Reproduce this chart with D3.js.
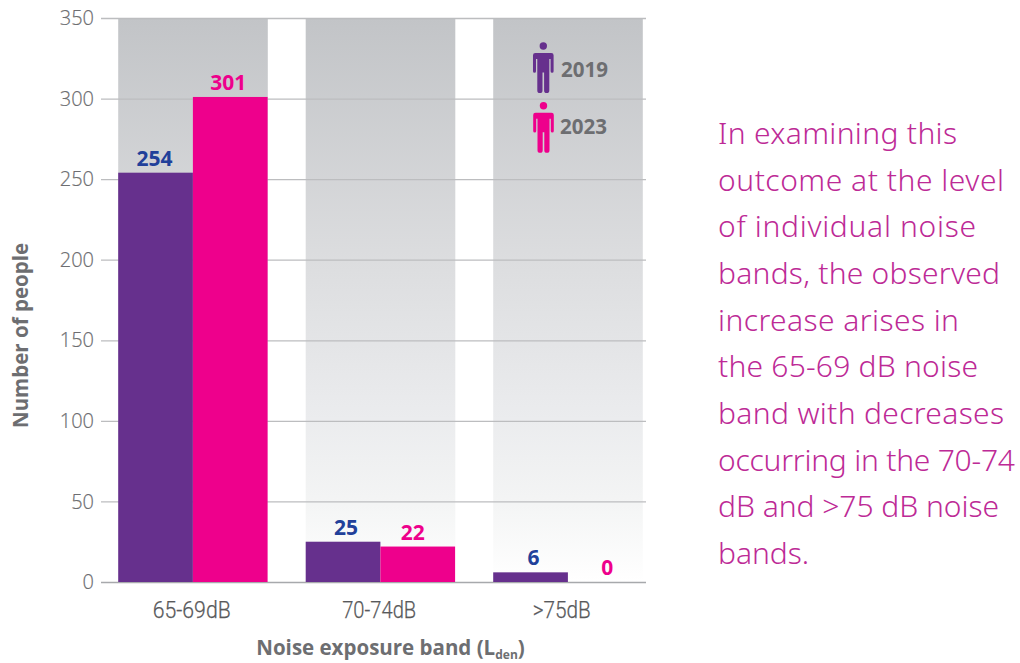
<!DOCTYPE html>
<html><head><meta charset="utf-8">
<script src="https://cdn.jsdelivr.net/npm/d3@7/dist/d3.min.js"></script>
<style>
html,body{margin:0;padding:0;background:#fff;}
svg{display:block;}
text{font-family:"Open Sans","Noto Sans",sans-serif;}
</style></head><body>
<svg id="c" width="1020" height="663"></svg>
<script>
const categories = ["65-69dB","70-74dB",">75dB"];
const series = ["2019","2023"];
const values2019 = [254,25,6];
const values2023 = [301,22,0];
const yTicks = [0,50,100,150,200,250,300,350];
const seriesColors = ["#66308d","#ee008c"];
const labelColors = ["#21409a","#ee008c"];
const noteLines = ["In examining this","outcome at the level","of individual noise","bands, the observed","increase arises in","the 65-69 dB noise","band with decreases","occurring in the 70-74","dB and >75 dB noise","bands."];

// layout constants (not data)
const noteWidths = [239,286,258,282,241,260,286,297,281,91];
const catLabelWidths = [78,74,58];
const catLabelShift = [-1.5,-1.5,-6.5];
const barLabelShift = [-1,-2,3,-5,3,2];

const svg = d3.select("#c");
const y = d3.scaleLinear().domain([0,350]).range([582,18]);
const x = d3.scaleBand().domain(categories).range([118.2,643.2]).paddingInner(0.2);
const xs = d3.scaleBand().domain(series).range([0,x.bandwidth()-0.6]);

const defs = svg.append("defs");
const g = defs.append("linearGradient").attr("id","bg").attr("gradientUnits","userSpaceOnUse")
  .attr("x1",0).attr("x2",0).attr("y1",y(350)).attr("y2",y(0));
[[0,"#c2c4c7"],[0.43,"#dcdddf"],[0.71,"#ebecee"],[0.85,"#f3f4f4"],[1,"#ffffff"]].forEach(s=>
  g.append("stop").attr("offset",s[0]).attr("stop-color",s[1]));

svg.append("g").selectAll("rect").data(categories).join("rect")
  .attr("x",d=>x(d)).attr("y",y(350)).attr("width",x.bandwidth()-0.4).attr("height",y(0)-y(350))
  .attr("fill","url(#bg)");

// y axis
const yAxis = d3.axisLeft(y).tickValues(yTicks).tickSize(0).tickPadding(7);
const ya = svg.append("g").attr("transform","translate(101,0)").call(yAxis);
ya.select(".domain").remove();
ya.selectAll(".tick line").attr("x2",545).attr("stroke","#bcbdbf").attr("stroke-width",1.3);
ya.selectAll(".tick text").attr("fill","#6d6e71").attr("font-size",20)
  .style("font-family","'Open Sans',sans-serif").style("font-weight",300)
  .attr("stroke","#6d6e71").attr("stroke-width",0.2).attr("dy","0.33em");
ya.selectAll(".tick").filter(d=>d===0).select("line").attr("stroke","#a7a9ac");

// x axis
const xAxis = d3.axisBottom(x).tickSize(0).tickPadding(19);
const xa = svg.append("g").attr("transform","translate(0,582)").call(xAxis);
xa.select(".domain").remove();
xa.selectAll(".tick text").attr("fill","#58595b").attr("font-size",24)
  .style("font-family","Roboto,sans-serif").style("font-weight",300)
  .attr("stroke","#58595b").attr("stroke-width",0.25)
  .attr("lengthAdjust","spacingAndGlyphs")
  .attr("x",(d,i)=>catLabelShift[i])
  .attr("textLength",(d,i)=>catLabelWidths[i]);

// bars
const rows = categories.map((c,i)=>[{c,s:"2019",v:values2019[i],k:0},{c,s:"2023",v:values2023[i],k:1}]).flat();
svg.append("g").selectAll("rect").data(rows).join("rect")
  .attr("x",d=>x(d.c)+xs(d.s)).attr("y",d=>y(d.v))
  .attr("width",xs.bandwidth()).attr("height",d=>y(0)-y(d.v))
  .attr("fill",d=>seriesColors[d.k]);
svg.append("g").selectAll("text").data(rows).join("text")
  .attr("x",(d,i)=>x(d.c)+xs(d.s)+xs.bandwidth()/2+barLabelShift[i])
  .attr("y",d=>y(d.v)-7).attr("text-anchor","middle")
  .attr("font-size",21).attr("font-weight",700)
  .attr("fill",d=>labelColors[d.k]).text(d=>d.v);

// axis titles
svg.append("text").attr("transform","translate(28,335.5) rotate(-90)").attr("text-anchor","middle")
  .attr("font-size",20.5).attr("font-weight",700).attr("fill","#6d6e71").text("Number of people");
const xt = svg.append("text").attr("x",390.5).attr("y",654.5).attr("text-anchor","middle")
  .attr("font-size",20.5).attr("font-weight",700).attr("fill","#6d6e71");
xt.append("tspan").text("Noise exposure band (L");
xt.append("tspan").attr("font-size",12).attr("dy",4.5).text("den");
xt.append("tspan").attr("dy",-4.5).text(")");

// legend
const person = "M-8,0 h16 a2.3,2.3 0 0 1 2.3,2.3 v16 a1.5,1.5 0 0 1 -3,0 v-12.3 h-1.3 v31.5 a2.6,2.6 0 0 1 -5.2,0 v-18 h-1.6 v18 a2.6,2.6 0 0 1 -5.2,0 v-31.5 h-1.3 v12.3 a1.5,1.5 0 0 1 -3,0 v-16 a2.3,2.3 0 0 1 2.3,-2.3 z";
series.forEach((s,i)=>{
  const cy = [53,112.7][i];
  const lg = svg.append("g").attr("transform",`translate(${[543.3,543.5][i]},${cy})`);
  lg.append("circle").attr("cy",-7).attr("r",3.7).attr("fill",seriesColors[i]);
  lg.append("path").attr("d",person).attr("fill",seriesColors[i]);
  lg.append("text").attr("x",[17.7,16.5][i]).attr("y",[23.7,21.3][i]).attr("font-size",21).attr("font-weight",700)
    .attr("textLength",47).attr("lengthAdjust","spacingAndGlyphs")
    .attr("fill","#6d6e71").text(s);
});

// note
svg.append("g").selectAll("text").data(noteLines).join("text")
  .attr("x",718).attr("y",(d,i)=>144+i*46.65).attr("font-size",30)
  .style("font-family","'Noto Sans',sans-serif").style("font-weight",300)
  .attr("textLength",(d,i)=>noteWidths[i]).attr("lengthAdjust","spacing")
  .attr("fill","#bd2a96").text(d=>d);
</script></body></html>
